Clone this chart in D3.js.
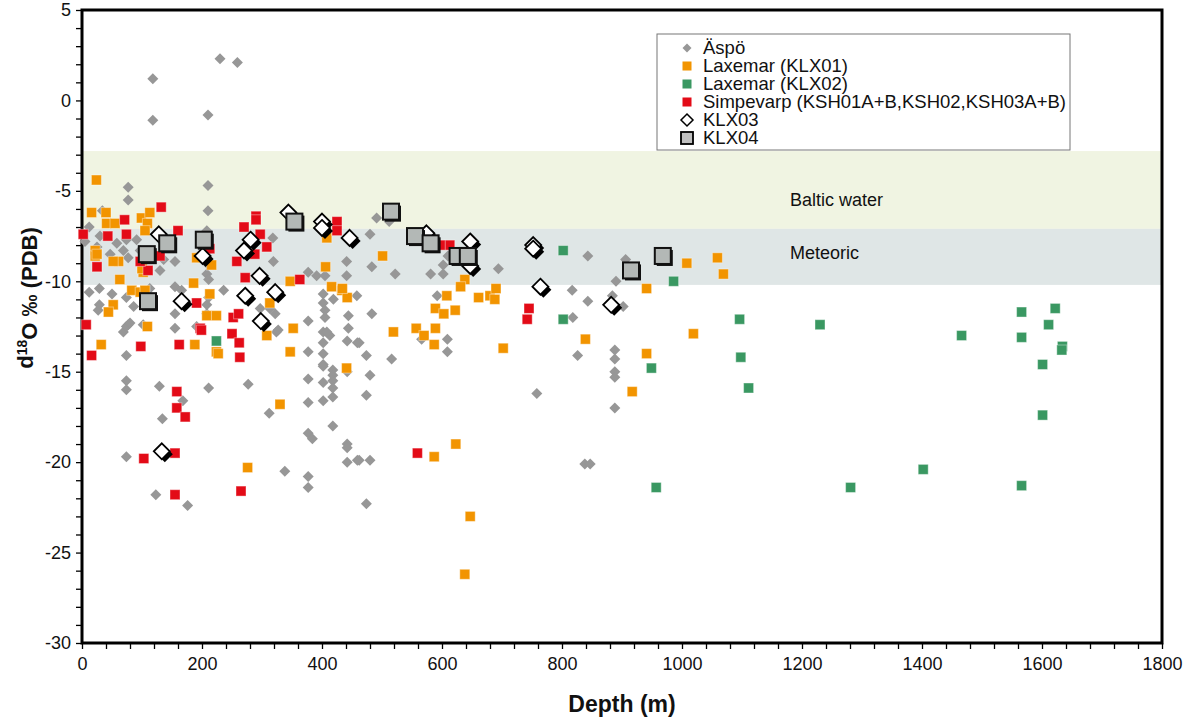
<!DOCTYPE html>
<html>
<head>
<meta charset="UTF-8">
<title></title>
<style>
  body { margin: 0; background: #fff; }
  svg text { font-family: "Liberation Sans", Arial, sans-serif; fill: #111; }
</style>
</head>
<body>
<svg id="chart" width="1184" height="722"></svg>
<script src="https://cdn.jsdelivr.net/npm/d3@7"></script>
<script>
// [depth (m), d18O (permil PDB)]
var aspo = [
  [118,1.2],[118,-1.1],[230,2.3],[259,2.1],[210,-0.8],[210,-4.7],[77,-4.8],[77,-5.5],[210,-6.1],[34,-6.1],[12,-7.0],[318,-7.6],
  [5,-7.8],[30,-7.5],[25,-8.1],[58,-7.9],[69,-8.3],[74,-7.7],[47,-8.5],[77,-8.7],[91,-7.7],[97,-8.3],[108,-8.8],[136,-8.8],
  [130,-9.4],[155,-8.9],[208,-7.2],[208,-7.7],[211,-8.3],[208,-9.0],[208,-9.6],[211,-9.9],[236,-10.5],[319,-8.9],[377,-9.5],
  [391,-9.7],[405,-9.7],[441,-8.9],[441,-9.7],[458,-10.8],[155,-10.3],[166,-10.5],[113,-10.4],[50,-10.7],[29,-10.4],[12,-10.6],
  [74,-10.9],[86,-11.4],[27,-11.6],[155,-11.8],[155,-12.6],[77,-12.4],[69,-12.8],[208,-11.8],[208,-11.3],[211,-10.9],[297,-11.5],
  [322,-11.8],[324,-12.8],[377,-12.2],[402,-10.7],[402,-11.2],[405,-11.6],[405,-12.0],[402,-12.8],[419,-11.0],[413,-13.0],
  [444,-11.9],[444,-12.6],[29,-11.3],[74,-12.5],[80,-12.3],[102,-12.4],[191,-12.5],[74,-14.1],[74,-15.5],[74,-16.0],[129,-15.8],
  [168,-16.6],[134,-17.6],[211,-15.9],[74,-19.7],[123,-21.8],[176,-22.4],[277,-15.7],[312,-17.3],[327,-12.7],[313,-11.5],
  [338,-20.5],[377,-20.8],[377,-21.4],[377,-15.4],[377,-16.7],[377,-13.9],[377,-18.4],[384,-18.7],[402,-13.4],[402,-14.0],
  [402,-14.6],[402,-14.7],[402,-15.6],[402,-16.6],[408,-12.8],[418,-14.9],[418,-15.2],[418,-15.5],[418,-15.9],[418,-16.4],
  [418,-18.0],[442,-13.3],[442,-15.0],[442,-19.0],[442,-19.2],[442,-20.0],[459,-13.4],[459,-19.9],
  [483,-11.8],[462,-13.4],[474,-14.1],[516,-14.3],[480,-15.2],[474,-16.3],[462,-19.9],[480,-19.9],[474,-22.3],[609,-13.2],
  [609,-13.9],[566,-13.2],[758,-16.2],[818,-12.0],[826,-14.1],[843,-11.1],[888,-13.8],[888,-14.3],[888,-15.0],[888,-15.3],
  [888,-17.0],[838,-20.1],[847,-20.1],[902,-11.4],
  [491,-6.5],[512,-6.7],[480,-7.4],[483,-9.2],[522,-9.6],[581,-9.6],[602,-9.1],[602,-9.6],[610,-8.6],[694,-9.3],[592,-10.8],
  [817,-10.5],[843,-8.6],[890,-10.0],[884,-10.8],[906,-8.8]
];
var klx01 = [
  [24,-4.4],[16,-6.2],[40,-6.2],[41,-6.8],[55,-6.8],[99,-6.5],[113,-6.2],[109,-6.8],[105,-7.2],[408,-7.6],
  [22,-8.3],[22,-8.6],[25,-8.5],[61,-8.9],[52,-8.9],[102,-9.5],[100,-9.3],[63,-9.9],[83,-10.5],[97,-10.6],[105,-10.5],
  [52,-11.3],[44,-11.7],[109,-12.5],[186,-10.1],[213,-10.7],[216,-9.1],[191,-8.7],[313,-11.2],[347,-10.0],[352,-12.6],
  [406,-9.2],[416,-10.3],[433,-10.5],[442,-10.9],[208,-11.9],[224,-11.9],[308,-13.0],[32,-13.5],[188,-13.5],[224,-13.9],
  [227,-14.0],[347,-13.9],[441,-14.8],[330,-16.8],[276,-20.3],
  [501,-8.6],[638,-9.9],[434,-10.4],[608,-10.8],[631,-10.3],[661,-10.9],[680,-10.8],[688,-11.0],[690,-10.4],[589,-11.5],
  [603,-11.8],[622,-11.6],[519,-12.8],[557,-12.6],[589,-12.6],[570,-13.0],[941,-10.4],[1008,-9.0],[1059,-8.7],[1069,-9.6],
  [1019,-12.9],[839,-13.2],[587,-13.5],[702,-13.7],[941,-14.0],[917,-16.1],[623,-19.0],[587,-19.7],[647,-23.0],[638,-26.2]
];
var klx02 = [
  [224,-13.3],[802,-8.3],[986,-10.0],[802,-12.1],[949,-14.8],[957,-21.4],[1096,-12.1],[1098,-14.2],[1111,-15.9],[1230,-12.4],
  [1466,-13.0],[1566,-11.7],[1566,-13.1],[1622,-11.5],[1611,-12.4],[1634,-13.6],[1633,-13.8],[1601,-14.6],[1601,-17.4],
  [1402,-20.4],[1281,-21.4],[1566,-21.3]
];
var simpevarp = [
  [132,-5.9],[71,-6.6],[160,-7.2],[270,-7.0],[290,-6.4],[290,-6.6],[297,-7.4],[425,-6.7],[425,-7.2],[2,-7.4],[43,-7.5],
  [74,-7.4],[308,-8.1],[258,-8.9],[288,-8.5],[272,-9.8],[363,-9.9],[25,-9.2],[110,-9.4],[97,-8.9],[130,-8.6],[213,-8.2],
  [191,-11.2],[7,-12.4],[252,-12.0],[261,-11.8],[197,-12.6],[199,-12.7],[250,-12.9],[16,-14.1],[98,-13.6],[162,-13.5],
  [262,-13.4],[263,-14.2],[158,-16.1],[158,-17.0],[172,-17.5],[103,-19.8],[155,-19.5],[155,-21.8],[265,-21.6],[613,-8.0],
  [597,-8.0],[745,-11.5],[742,-12.1],[559,-19.5]
];
var klx03 = [
  [344,-6.2],[400,-6.7],[400,-7.05],[446,-7.6],[128,-7.4],[281,-7.7],[270,-8.3],[201,-8.6],[296,-9.7],[322,-10.6],
  [272,-10.8],[166,-11.1],[298,-12.2],[133,-19.4],[574,-7.35],[647,-7.8],[647,-9.15],[752,-8.0],[752,-8.2],[764,-10.3],
  [882,-11.3]
];
var klx04 = [
  [354,-6.7],[108,-8.5],[142,-7.9],[203,-7.7],[110,-11.1],[515,-6.15],[555,-7.5],[581,-7.9],[626,-8.6],[643,-8.6],
  [968,-8.6],[915,-9.4]
];

var bands = [
  {name: "Baltic water", top: -2.8, bottom: -7.1, color: "#f0f4e2"},
  {name: "Meteoric", top: -7.1, bottom: -10.2, color: "#dfe6e6"}
];
var legendNames = ["Äspö", "Laxemar (KLX01)", "Laxemar (KLX02)",
  "Simpevarp (KSH01A+B,KSH02,KSH03A+B)", "KLX03", "KLX04"];

var plotL = 82, plotR = 1162, plotT = 10, plotB = 643;

var x = d3.scaleLinear().domain([0, 1800]).range([plotL, plotR]);
var y = d3.scaleLinear().domain([-30, 5]).range([plotB, plotT]);

var svg = d3.select("#chart");
svg.append("rect").attr("width", 1184).attr("height", 722).attr("fill", "#fff");

// background bands
svg.selectAll(".band").data(bands).enter()
  .append("rect")
  .attr("class", "band")
  .attr("x", plotL)
  .attr("width", plotR - plotL)
  .attr("y", function(d) { return y(d.top); })
  .attr("height", function(d) { return y(d.bottom) - y(d.top); })
  .attr("fill", function(d) { return d.color; });

svg.selectAll(".bandlabel").data(bands).enter()
  .append("text")
  .attr("x", x(1180))
  .attr("y", function(d, i) { return i == 0 ? y(-5.5) : y(-8.4); })
  .attr("dy", "0.35em")
  .style("font-size", "18px")
  .text(function(d) { return d.name; });

// axes
var yAxis = d3.axisLeft(y)
  .tickValues(d3.range(-30, 6, 1))
  .tickSize(6)
  .tickPadding(5)
  .tickFormat(function(d) { return d % 5 == 0 ? String(d) : ""; });
var xAxis = d3.axisBottom(x)
  .tickValues(d3.range(0, 1801, 40))
  .tickSize(6)
  .tickPadding(8)
  .tickFormat(function(d) { return d % 200 == 0 ? String(d) : ""; });

var gy = svg.append("g").attr("transform", "translate(" + plotL + ",0)").call(yAxis);
var gx = svg.append("g").attr("transform", "translate(0," + plotB + ")").call(xAxis);
[gx, gy].forEach(function(g) {
  g.select(".domain").remove();
  g.selectAll("line").attr("stroke", "#000").attr("stroke-width", 1.3);
  g.selectAll("text").style("font-size", "18px").style("font-family", "'Liberation Sans', Arial, sans-serif").attr("fill", "#111");
});

svg.append("rect")
  .attr("x", plotL).attr("y", plotT)
  .attr("width", plotR - plotL).attr("height", plotB - plotT)
  .attr("fill", "none").attr("stroke", "#000").attr("stroke-width", 3);

svg.append("text")
  .attr("x", (plotL + plotR) / 2)
  .attr("y", 712)
  .attr("text-anchor", "middle")
  .style("font-size", "23px").style("font-weight", "bold")
  .text("Depth (m)");

var ytitle = svg.append("text")
  .attr("transform", "translate(33," + 298 + ")rotate(-90)")
  .attr("text-anchor", "middle")
  .style("font-size", "22px").style("font-weight", "bold");
ytitle.append("tspan").text("d");
ytitle.append("tspan").attr("dy", "-0.45em").style("font-size", "14px").text("18");
ytitle.append("tspan").attr("dy", "0.45em").text("O ‰ (PDB)");

// markers
var diamond = function(r) { return "M0," + (-r) + "L" + r + ",0L0," + r + "L" + (-r) + ",0Z"; };

function squares(data, color, size) {
  svg.append("g").selectAll("rect").data(data).enter()
    .append("rect")
    .attr("x", function(d) { return x(d[0]) - size / 2; })
    .attr("y", function(d) { return y(d[1]) - size / 2; })
    .attr("width", size).attr("height", size)
    .attr("fill", color)
    .attr("stroke", "#fff").attr("stroke-opacity", 0.4).attr("stroke-width", 1);
}

svg.append("g").selectAll("path").data(aspo).enter()
  .append("path")
  .attr("d", diamond(5.5))
  .attr("transform", function(d) { return "translate(" + x(d[0]) + "," + y(d[1]) + ")"; })
  .attr("fill", "#979797");

squares(klx01, "#f29400", 10);
squares(klx02, "#3a9862", 10);
squares(simpevarp, "#e30b17", 10);

var g3 = svg.append("g").selectAll("g").data(klx03).enter()
  .append("g")
  .attr("transform", function(d) { return "translate(" + x(d[0]) + "," + y(d[1]) + ")"; });
g3.append("path").attr("d", diamond(8)).attr("transform", "translate(3,3)").attr("fill", "#000");
g3.append("path").attr("d", diamond(8)).attr("fill", "#fff").attr("stroke", "#000").attr("stroke-width", 1.8);

var g4 = svg.append("g").selectAll("g").data(klx04).enter()
  .append("g")
  .attr("transform", function(d) { return "translate(" + x(d[0]) + "," + y(d[1]) + ")"; });
g4.append("rect").attr("x", -6).attr("y", -6).attr("width", 16).attr("height", 16).attr("fill", "#111");
g4.append("rect").attr("x", -8).attr("y", -8).attr("width", 16).attr("height", 16)
  .attr("fill", "#b3b8b6").attr("stroke", "#111").attr("stroke-width", 2);

// legend
var lg = svg.append("g").attr("transform", "translate(657,34)");
lg.append("rect").attr("width", 413).attr("height", 116)
  .attr("fill", "#fff").attr("stroke", "#777").attr("stroke-width", 1);
var rowY = function(i) { return 14 + i * 18; };
legendNames.forEach(function(name, i) {
  var row = lg.append("g").attr("transform", "translate(30," + rowY(i) + ")");
  if (i == 0) {
    row.append("path").attr("d", diamond(4.5)).attr("fill", "#979797");
  } else if (i < 4) {
    var c = ["#f29400", "#3a9862", "#e30b17"][i - 1];
    row.append("rect").attr("x", -4.5).attr("y", -4.5).attr("width", 9).attr("height", 9).attr("fill", c);
  } else if (i == 4) {
    row.append("path").attr("d", diamond(6)).attr("fill", "#fff").attr("stroke", "#000").attr("stroke-width", 1.5);
  } else {
    row.append("rect").attr("x", -6).attr("y", -6).attr("width", 12).attr("height", 12)
      .attr("fill", "#c0c0c0").attr("stroke", "#000").attr("stroke-width", 1.8);
  }
  row.append("text").attr("x", 16).attr("dy", "0.35em").style("font-size", "18.5px").text(name);
});
</script>
</body>
</html>
